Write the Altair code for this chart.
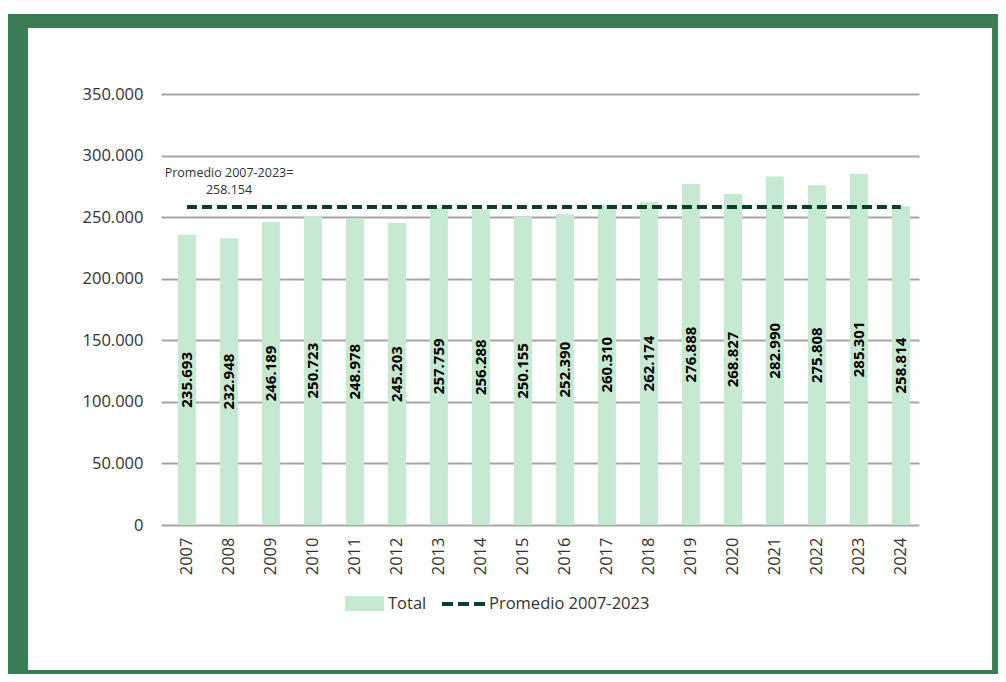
import altair as alt
import pandas as pd

years = [str(y) for y in range(2007, 2025)]
totals = [235693, 232948, 246189, 250723, 248978, 245203, 257759, 256288, 250155,
          252390, 260310, 262174, 276888, 268827, 282990, 275808, 285301, 258814]
avg_value = 258154
avg_label = "258.154"
y_ticks = [0, 50000, 100000, 150000, 200000, 250000, 300000, 350000]

BAR = "#c6e9d1"
LINE = "#0b3d2b"
FRAME = "#3a7d54"
GRID = "#a6a6a6"
TXT = "#333333"
FONT = "Open Sans"

df = pd.DataFrame({"year": years, "total": totals, "avg": [avg_value] * len(years)})

x_scale = alt.Scale(paddingInner=0.571, paddingOuter=0.31, align=0.65)
y_scale = alt.Scale(domain=[0, 350000])

base = alt.Chart(df)

bars = base.mark_bar(color=BAR).encode(
    x=alt.X("year:N", scale=x_scale, sort=years,
            axis=alt.Axis(title=None, labelAngle=270, labelPadding=12, ticks=False,
                          domain=False, labelFontSize=16.5, labelColor=TXT, labelFont=FONT,
                          grid=False)),
    y=alt.Y("total:Q", scale=y_scale,
            axis=alt.Axis(title=None, values=y_ticks, ticks=False, domain=False,
                          labelPadding=18, labelFontSize=16.5, labelColor=TXT, labelFont=FONT,
                          gridColor=GRID, gridWidth=2,
                          labelExpr="replace(format(datum.value, ','), ',', '.')")),
)

avg_line = base.mark_line(color=LINE, strokeWidth=4, strokeDash=[10, 5]).encode(
    x=alt.X("year:N", sort=years, scale=x_scale),
    y=alt.Y("avg:Q", scale=y_scale),
)

labels = base.transform_calculate(
    lbl="replace(format(datum.total, ','), ',', '.')",
    mid="datum.total / 2",
).mark_text(angle=270, fontWeight="bold", fontSize=15, color="black", font=FONT,
            baseline="middle", align="center").encode(
    x=alt.X("year:N", sort=years, scale=x_scale),
    y=alt.Y("mid:Q", scale=y_scale),
    text="lbl:N",
)

one = alt.Chart(pd.DataFrame({"a": [0]}))

annot = one.mark_text(fontSize=12.5, color=TXT, font=FONT, align="center", baseline="middle",
                      lineHeight=17).encode(
    x=alt.value(68), y=alt.value(79),
    text=alt.value(["Promedio 2007-2023=", avg_label]),
)

# frame stripes
def stripe(x, x2, y, y2):
    return one.mark_rect(color=FRAME).encode(
        x=alt.value(x), x2=alt.value(x2), y=alt.value(y), y2=alt.value(y2))

frame = [
    stripe(-154, 840, -80, -66),
    stripe(-154, -133, -80, 590),
    stripe(831, 840, -80, 590),
    stripe(-154, 840, 576, 590),
]

# legend
leg_swatch = one.mark_rect(color=BAR).encode(
    x=alt.value(184), x2=alt.value(223), y=alt.value(502), y2=alt.value(517))
leg_total = one.mark_text(fontSize=16.5, color=TXT, font=FONT, align="left", baseline="middle").encode(
    x=alt.value(227), y=alt.value(510), text=alt.value("Total"))
leg_line = one.mark_rule(color=LINE, strokeWidth=4, strokeDash=[11, 5]).encode(
    x=alt.value(281), x2=alt.value(326), y=alt.value(510))
leg_avg = one.mark_text(fontSize=16.5, color=TXT, font=FONT, align="left", baseline="middle").encode(
    x=alt.value(328), y=alt.value(510), text=alt.value("Promedio 2007-2023"))

chart = alt.layer(
    *frame, bars, avg_line, labels, annot, leg_swatch, leg_total, leg_line, leg_avg
).properties(
    width=758, height=431,
    autosize=alt.AutoSizeParams(type="none"),
    padding={"left": 153, "top": 86, "right": 79, "bottom": 149},
    background="white",
).configure_view(stroke=None)

chart.save("out.html", embed_options={"renderer": "svg", "actions": False})
